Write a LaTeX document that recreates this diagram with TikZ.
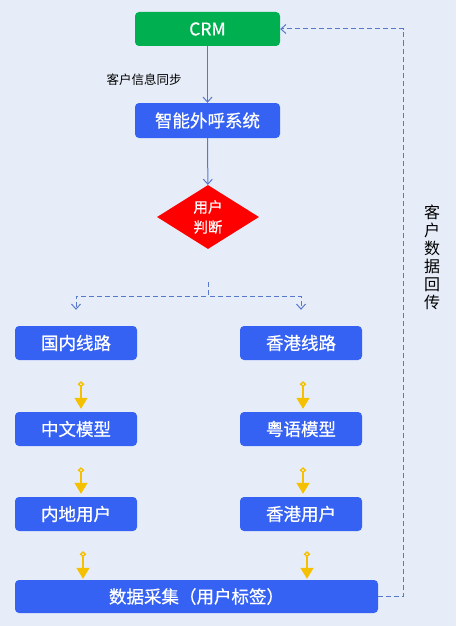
\documentclass[tikz,border=0pt]{standalone}
\usepackage{fontspec}
\setmainfont{Noto Sans CJK SC}
\newfontfamily\boxfont{Noto Sans CJK SC}[FakeBold=0.6]
\usetikzlibrary{arrows.meta,shapes.geometric}

\begin{document}
\begin{tikzpicture}[x=1pt, y=-1pt]
    \definecolor{bgblue}{HTML}{E6EDF8}
    \definecolor{boxblue}{HTML}{3662F4}
    \definecolor{crmgreen}{HTML}{00B050}
    \definecolor{linkblue}{HTML}{5779CC}
    \definecolor{gold}{HTML}{F5C000}
    \tikzset{
        box/.style={rectangle, rounded corners=4pt, fill=boxblue, text=white, minimum width=122pt, minimum height=34pt, inner sep=0pt, font=\boxfont\fontsize{17.5}{20}\selectfont},
        link/.style={linkblue, line width=1pt, -{Straight Barb[length=5pt, width=9pt]}},
        dlink/.style={link, dash pattern=on 5pt off 3pt},
        yarrow/.style={gold, line width=1.4pt, {Diamond[open, length=6pt, width=7pt]}-{Triangle[length=11pt, width=13pt]}}
    }

    % background
    \fill[bgblue] (0,0) rectangle (456,626);

    % top part
    \node[box, fill=crmgreen, minimum width=145pt] (crm) at (207.5,29) {CRM};
    \node[box, minimum width=145pt, minimum height=35pt] (call) at (207.5,120.5) {智能外呼系统};
    \node[diamond, fill=red, text=white, minimum width=102pt, minimum height=64pt, inner sep=0pt, aspect=1.6, align=center, font=\boxfont\fontsize{14.5}{20}\selectfont] (judge) at (208,217) {用户\\判断};
    \coordinate (split) at ([yshift=-33pt]judge.south);

    % branches
    \node[box] (lineA) at (76,343) {国内线路};
    \node[box] (lineB) at (301,343) {香港线路};
    \node[box] (modelA) at (76,429) {中文模型};
    \node[box] (modelB) at (301,429) {粤语模型};
    \node[box] (userA) at (76,514) {内地用户};
    \node[box] (userB) at (301,514) {香港用户};
    \node[box, minimum width=363pt, minimum height=33pt] (collect) at (196.5,596.5) {数据采集（用户标签）};

    % return label
    \node[font=\fontsize{16}{18}\selectfont, align=center] (back) at (432,257) {客\\户\\数\\据\\回\\传};

    % connectors
    \draw[link] (crm) -- (call) node[pos=0.6, left=22pt, text=black, font=\fontsize{12.5}{14}\selectfont] {客户信息同步};
    \draw[link] (call) -- (judge);
    \draw[dlink] (split) -- ++(0,14) -| ([yshift=16pt]lineA.north);
    \draw[dlink] (split) -- ++(0,14) -| ([yshift=16pt]lineB.north);

    \draw[yarrow] ([xshift=5pt, yshift=-21pt]lineA.south) -- ([xshift=5pt, yshift=3pt]modelA.north);
    \draw[yarrow] ([xshift=2pt, yshift=-21pt]lineB.south) -- ([xshift=2pt, yshift=3pt]modelB.north);
    \draw[yarrow] ([xshift=5pt, yshift=-21pt]modelA.south) -- ([xshift=5pt, yshift=3pt]userA.north);
    \draw[yarrow] ([xshift=2pt, yshift=-21pt]modelB.south) -- ([xshift=2pt, yshift=3pt]userB.north);
    \draw[yarrow] ([xshift=7pt, yshift=-20pt]userA.south) -- ([xshift=-113.5pt, yshift=1pt]collect.north);
    \draw[yarrow] ([xshift=6pt, yshift=-20pt]userB.south) -- ([xshift=110.5pt, yshift=1pt]collect.north);

    \draw[dlink] (collect.east) -- ++(25,0) |- (crm.east);
\end{tikzpicture}
\end{document}
